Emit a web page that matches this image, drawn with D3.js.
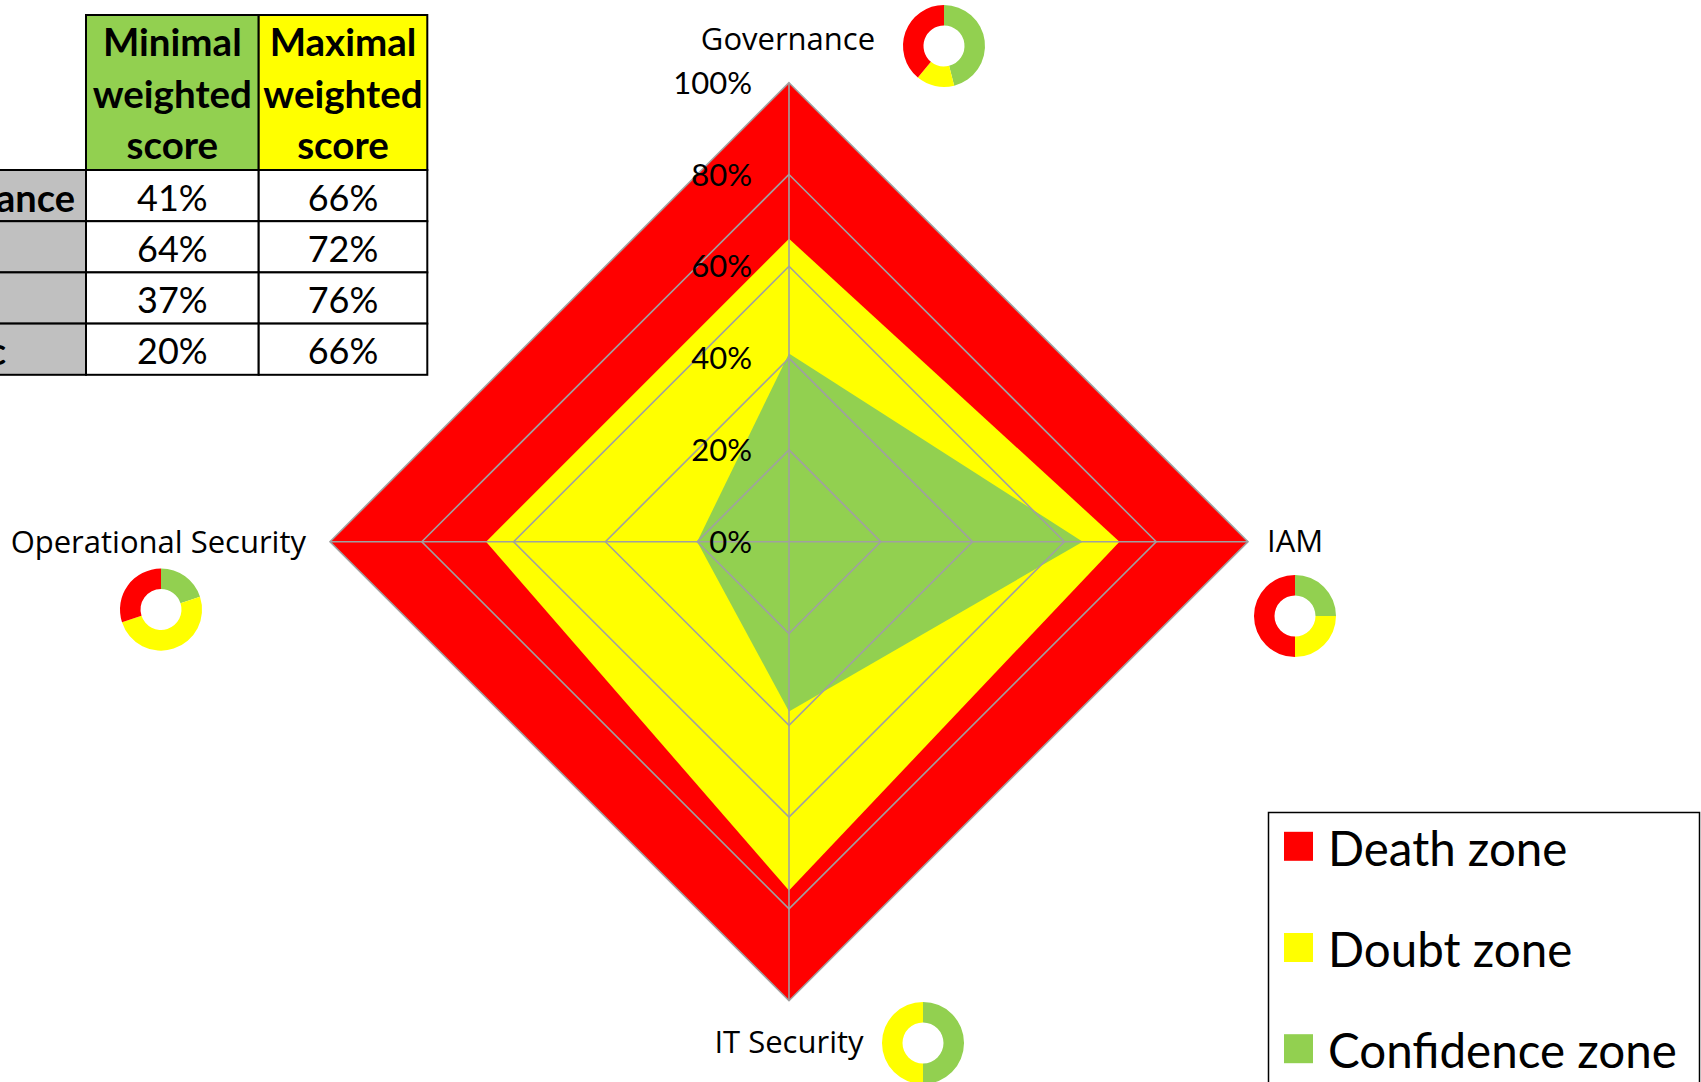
<!DOCTYPE html>
<html>
<head>
<meta charset="utf-8">
<script src="https://cdn.jsdelivr.net/npm/d3@7"></script>
<style>
  body { margin: 0; background: #fff; }
  svg { display: block; }
</style>
</head>
<body>
<svg width="1701" height="1082"></svg>
<script>
// radar axes, clockwise from the top
var axes = ["Governance", "IAM", "IT Security", "Operational Security"];
var minScore = [0.41, 0.64, 0.37, 0.20];   // confidence zone
var maxScore = [0.66, 0.72, 0.76, 0.66];   // doubt zone
var deathScore = [1, 1, 1, 1];             // death zone
var tickValues = [0, 0.2, 0.4, 0.6, 0.8, 1];

// small donuts next to each axis label (green, yellow, red shares)
var donutGreen = [0.46, 0.25, 0.50, 0.20];
var donutYellow = [0.15, 0.25, 0.50, 0.50];
var donutRed = [0.39, 0.50, 0.00, 0.30];

// table in the top-left corner
var tableHeaders = ["Minimal\nweighted\nscore", "Maximal\nweighted\nscore"];
var tableRowLabels = ["Governance", "", "", "c"];
var tableMin = ["41%", "64%", "37%", "20%"];
var tableMax = ["66%", "72%", "76%", "66%"];

var legendLabels = ["Death zone", "Doubt zone", "Confidence zone"];

var RED = "#ff0000", YELLOW = "#ffff00", GREEN = "#92d050";

var svg = d3.select("svg"),
    width = +svg.attr("width"),
    height = +svg.attr("height");

var cx = 789, cy = 541.7, R = 459;

var r = d3.scaleLinear().domain([0, 1]).range([0, R]);
var angle = d3.scalePoint().domain(d3.range(axes.length + 1)).range([0, 2 * Math.PI]);

var radar = svg.append("g").attr("transform", "translate(" + cx + "," + cy + ")");

var line = d3.lineRadial()
    .angle(function(d, i) { return angle(i); })
    .radius(function(d) { return r(d); })
    .curve(d3.curveLinearClosed);

// zones
radar.selectAll("path.zone")
  .data([[deathScore, RED], [maxScore, YELLOW], [minScore, GREEN]])
  .enter().append("path")
  .attr("class", "zone")
  .attr("d", function(d) { return line(d[0]); })
  .attr("fill", function(d) { return d[1]; });

// grid on top
radar.selectAll("path.grid")
  .data(tickValues.filter(function(t) { return t > 0; }))
  .enter().append("path")
  .attr("class", "grid")
  .attr("d", function(t) { return line(axes.map(function() { return t; })); })
  .attr("fill", "none")
  .attr("stroke", "#a0a0a0")
  .attr("stroke-width", 1.6);

radar.selectAll("line.spoke")
  .data(axes)
  .enter().append("line")
  .attr("class", "spoke")
  .attr("x1", 0).attr("y1", 0)
  .attr("x2", function(d, i) { return r(1) * Math.sin(angle(i)); })
  .attr("y2", function(d, i) { return -r(1) * Math.cos(angle(i)); })
  .attr("stroke", "#a0a0a0")
  .attr("stroke-width", 1.6);

radar.selectAll("text.tick")
  .data(tickValues)
  .enter().append("text")
  .attr("class", "tick")
  .attr("x", -37)
  .attr("y", function(t) { return -r(t) - 1; })
  .attr("text-anchor", "end")
  .attr("dominant-baseline", "central")
  .style("font-family", "Lato")
  .style("font-size", "31px")
  .text(d3.format(".0%"));

// axis labels + donuts
var labelPos = [
  {x: 788, y: 38, anchor: "middle", dx: 944, dy: 46},
  {x: 1267, y: 540, anchor: "start", dx: 1295, dy: 616},
  {x: 789, y: 1041, anchor: "middle", dx: 923, dy: 1043},
  {x: 306, y: 541, anchor: "end", dx: 161, dy: 609.5}
];

svg.selectAll("text.axis")
  .data(axes)
  .enter().append("text")
  .attr("class", "axis")
  .attr("x", function(d, i) { return labelPos[i].x; })
  .attr("y", function(d, i) { return labelPos[i].y; })
  .attr("text-anchor", function(d, i) { return labelPos[i].anchor; })
  .attr("dominant-baseline", "central")
  .style("font-family", "Open Sans")
  .style("font-size", "31px")
  .text(function(d) { return d; });

var pie = d3.pie().sort(null).value(function(d) { return d.v; });
var arc = d3.arc().innerRadius(20.5).outerRadius(41);

axes.forEach(function(a, i) {
  var parts = [
    {v: donutGreen[i], c: GREEN},
    {v: donutYellow[i], c: YELLOW},
    {v: donutRed[i], c: RED}
  ];
  svg.append("g")
    .attr("transform", "translate(" + labelPos[i].dx + "," + labelPos[i].dy + ")")
    .selectAll("path")
    .data(pie(parts))
    .enter().append("path")
    .attr("d", arc)
    .attr("fill", function(d) { return d.data.c; });
});

// table
var colX = [-300, 86, 258.7, 427.3];
var headTop = 15, headBottom = 170, rowH = 51.2;
var tbl = svg.append("g");

tableHeaders.forEach(function(h, j) {
  tbl.append("rect")
    .attr("x", colX[j + 1]).attr("y", headTop)
    .attr("width", colX[j + 2] - colX[j + 1]).attr("height", headBottom - headTop)
    .attr("fill", j == 0 ? GREEN : YELLOW)
    .attr("stroke", "#000").attr("stroke-width", 2);
  h.split("\n").forEach(function(ln, k) {
    tbl.append("text")
      .attr("x", (colX[j + 1] + colX[j + 2]) / 2)
      .attr("y", headTop + 26 + k * 51.7)
      .attr("text-anchor", "middle")
      .attr("dominant-baseline", "central")
      .style("font-family", "Lato")
      .style("font-weight", "bold")
      .style("font-size", "38.5px")
      .text(ln);
  });
});

var labelEnd = [75, 75, 75, 6];
tableRowLabels.forEach(function(lbl, i) {
  var y0 = headBottom + i * rowH;
  var cells = [
    {x0: colX[0], x1: colX[1], fill: "#c0c0c0"},
    {x0: colX[1], x1: colX[2], fill: "#fff", txt: tableMin[i]},
    {x0: colX[2], x1: colX[3], fill: "#fff", txt: tableMax[i]}
  ];
  cells.forEach(function(c) {
    tbl.append("rect")
      .attr("x", c.x0).attr("y", y0)
      .attr("width", c.x1 - c.x0).attr("height", rowH)
      .attr("fill", c.fill)
      .attr("stroke", "#000").attr("stroke-width", 2);
    if (c.txt) {
      tbl.append("text")
        .attr("x", (c.x0 + c.x1) / 2)
        .attr("y", y0 + rowH / 2 + 1)
        .attr("text-anchor", "middle")
        .attr("dominant-baseline", "central")
        .style("font-family", "Lato")
        .style("font-size", "36px")
        .text(c.txt);
    }
  });
  tbl.append("text")
    .attr("x", labelEnd[i])
    .attr("y", y0 + rowH / 2 + 1)
    .attr("text-anchor", "end")
    .attr("dominant-baseline", "central")
    .style("font-family", "Lato")
    .style("font-weight", "bold")
    .style("font-size", "38px")
    .text(lbl);
});

// legend
var legend = svg.append("g");
legend.append("rect")
  .attr("x", 1268.5).attr("y", 812.5)
  .attr("width", 431).attr("height", 320)
  .attr("fill", "#fff")
  .attr("stroke", "#000").attr("stroke-width", 1.5);

var legendColor = [RED, YELLOW, GREEN];
legendLabels.forEach(function(l, i) {
  var y = 846.3 + i * 101.2;
  legend.append("rect")
    .attr("x", 1284).attr("y", y - 14.5)
    .attr("width", 29).attr("height", 29)
    .attr("fill", legendColor[i]);
  legend.append("text")
    .attr("x", 1328)
    .attr("y", y + 1)
    .attr("dominant-baseline", "central")
    .style("font-family", "Lato")
    .style("font-size", "47.5px")
    .text(l);
});
</script>
</body>
</html>
